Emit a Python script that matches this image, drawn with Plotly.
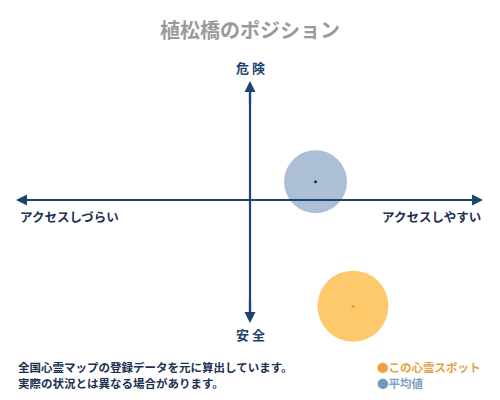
import plotly.graph_objects as go

# ---- data ----
series_names = ["この心霊スポット", "平均値"]
access_scores = [0.44, 0.28]      # x: アクセスしづらい(-) .. アクセスしやすい(+)
danger_scores = [-0.87, 0.15]     # y: 安全(-) .. 危険(+)

title_text = "植松橋のポジション"
label_top, label_bottom = "危 険", "安 全"
label_left, label_right = "アクセスしづらい", "アクセスしやすい"
footer_lines = ["全国心霊マップの登録データを元に算出しています。", "実際の状況とは異なる場合があります。"]

# ---- styles ----
W, H = 500, 400
FONT = "Noto Sans CJK JP"
NAVY = "#1c4470"
TEXT_NAVY = "#1c3050"
fill_colors = ["rgba(253,196,95,0.92)", "rgba(163,184,211,0.9)"]
dot_colors = ["#f0a010", "#1c2c44"]
legend_text_colors = ["#e8a040", "#7fa0c4"]
legend_dot_colors = ["#f0a040", "#6f98c0"]
marker_sizes = [71, 63]

# plot area covers the whole figure; axis cross at pixel (250, 200),
# one unit = 234 px horizontally, 122 px vertically
CX, CY, UX, UY = 250, 200, 234, 122
x_range = [(0 - CX) / UX, (W - CX) / UX]
y_range = [(CY - H) / UY, (CY - 0) / UY]

def paper(px, py):
    return px / W, 1 - py / H

x_left, x_right = (16 - CX) / UX, (483 - CX) / UX
y_top, y_bottom = (CY - 81) / UY, (CY - 323) / UY

fig = go.Figure()
# axis lines (drawn above the circles, as in the reference)
fig.add_shape(type="line", x0=x_left + 0.02, x1=x_right - 0.02, y0=0, y1=0, xref="x", yref="y",
              line=dict(color=NAVY, width=2.2), layer="above")
fig.add_shape(type="line", x0=0, x1=0, y0=y_bottom + 0.04, y1=y_top - 0.04, xref="x", yref="y",
              line=dict(color=NAVY, width=2.2), layer="above")

for i in [1, 0]:
    fig.add_trace(go.Scatter(
        x=[access_scores[i]], y=[danger_scores[i]], mode="markers", cliponaxis=False,
        marker=dict(size=marker_sizes[i], color=fill_colors[i], line=dict(width=0)),
        hoverinfo="skip", showlegend=False))
    fig.add_trace(go.Scatter(
        x=[access_scores[i]], y=[danger_scores[i]], mode="markers", cliponaxis=False,
        marker=dict(size=3, color=dot_colors[i], line=dict(width=0)),
        hoverinfo="skip", showlegend=False))

anns = []
arrow_common = dict(xref="x", yref="y", axref="x", ayref="y", showarrow=True,
                    arrowhead=2, arrowsize=1.0, arrowwidth=2.2, arrowcolor=NAVY, text="")
anns.append(dict(x=x_right, y=0, ax=x_right - 0.1, ay=0, **arrow_common))
anns.append(dict(x=x_left, y=0, ax=x_left + 0.1, ay=0, **arrow_common))
anns.append(dict(x=0, y=y_top, ax=0, ay=y_top - 0.2, **arrow_common))
anns.append(dict(x=0, y=y_bottom, ax=0, ay=y_bottom + 0.2, **arrow_common))

def text_ann(text, px, py, font, xanchor="center"):
    x, y = paper(px, py)
    return dict(text=text, x=x, y=y, xref="paper", yref="paper", xanchor=xanchor,
                yanchor="middle", showarrow=False, font=font)

lab_font = dict(family=FONT, size=13, color=NAVY)
side_font = dict(family=FONT, size=12.5, color=TEXT_NAVY)
anns.append(text_ann("<b>" + label_top + "</b>", 250, 67, lab_font))
anns.append(text_ann("<b>" + label_bottom + "</b>", 250, 334, lab_font))
anns.append(text_ann("<b>" + label_left + "</b>", 18, 216, side_font, "left"))
anns.append(text_ann("<b>" + label_right + "</b>", 483, 216, side_font, "right"))

foot_font = dict(family=FONT, size=11.5, color=TEXT_NAVY)
for k, line in enumerate(footer_lines):
    anns.append(text_ann("<b>" + line + "</b>", 16, 367 + 16 * k, foot_font, "left"))
for k, name in enumerate(series_names):
    anns.append(text_ann("<span style='color:%s'>●</span><b>%s</b>" % (legend_dot_colors[k], name),
                         375, 367 + 16 * k,
                         dict(family=FONT, size=11.5, color=legend_text_colors[k]), "left"))

tx, ty = paper(250, 30)
anns.append(dict(text="<b>" + title_text + "</b>", x=tx, y=ty, xref="paper", yref="paper",
                 xanchor="center", yanchor="middle", showarrow=False,
                 font=dict(family=FONT, size=20, color="#9a9a9a")))

fig.update_layout(
    annotations=anns,
    width=W, height=H,
    margin=dict(l=0, r=0, t=0, b=0),
    paper_bgcolor="white", plot_bgcolor="white",
    xaxis=dict(range=x_range, visible=False, fixedrange=True),
    yaxis=dict(range=y_range, visible=False, fixedrange=True),
    showlegend=False,
)

fig.write_html("out.html", config={"displayModeBar": False},
               post_script="document.body.style.margin='0';document.body.style.overflow='hidden';")
